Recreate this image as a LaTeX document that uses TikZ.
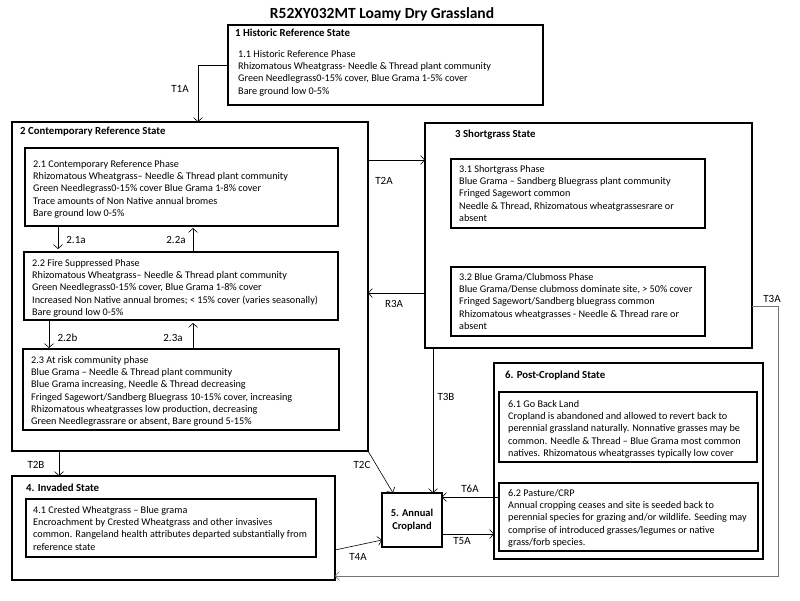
\documentclass[tikz,border=0pt]{standalone}
\usepackage{fontspec}
\setmainfont{Carlito}
\usetikzlibrary{arrows.meta}
\begin{document}
\begin{tikzpicture}[x=1pt,y=-1pt,
  box/.style={draw, line width=1.5pt, anchor=north west, inner sep=0pt, outer sep=0pt},
  txt/.style={anchor=north west, inner sep=0pt, align=left, font=\fontsize{10.2}{12.25}\selectfont},
  ttl/.style={anchor=north west, inner sep=0pt, font=\fontsize{10.8}{12}\selectfont\bfseries},
  conn/.style={line width=0.6pt, -{Straight Barb[length=4pt,width=9pt]}},
  grayconn/.style={conn, draw=black!55},
  lbl/.style={inner sep=0pt, font=\fontsize{11}{12}\selectfont},
]
\useasboundingbox[fill=white] (0,0) rectangle (800,600);

% title
\node[inner sep=0pt, font=\fontsize{15.5}{17}\selectfont\bfseries] (title) at (382,14) {R52XY032MT Loamy Dry Grassland};

% boxes
\node[box, minimum width=315pt, minimum height=80pt] (s1) at (228,25) {};
\node[box, minimum width=356pt, minimum height=329pt] (s2) at (12,122) {};
\node[box, minimum width=313pt, minimum height=78pt] (p21) at (25,148) {};
\node[box, minimum width=314pt, minimum height=68pt] (p22) at (24,252) {};
\node[box, minimum width=316pt, minimum height=81pt] (p23) at (23,349) {};
\node[box, minimum width=327pt, minimum height=225pt] (s3) at (425,123) {};
\node[box, minimum width=254pt, minimum height=69pt] (p31) at (451,159) {};
\node[box, minimum width=254pt, minimum height=69pt] (p32) at (451,267) {};
\node[box, minimum width=323pt, minimum height=104pt] (s4) at (12,476) {};
\node[box, minimum width=290pt, minimum height=58pt] (p41) at (26,499) {};
\node[box, minimum width=60pt, minimum height=54pt] (s5) at (382,493) {};
\node[box, minimum width=269pt, minimum height=196pt] (s6) at (494,363) {};
\node[box, minimum width=258pt, minimum height=70pt] (p61) at (499,392) {};
\node[box, minimum width=259pt, minimum height=68pt] (p62) at (499,483) {};

% titles
\node[ttl] (s1t) at (235,29) {1 Historic Reference State};
\node[ttl] (s2t) at (20,127) {2 Contemporary Reference State};
\node[ttl] (s3t) at (455,130) {3 Shortgrass State};
\node[ttl] (s4t) at (26,484) {4. Invaded  State};
\node[ttl] (s6t) at (505,371) {6. Post-Cropland  State};
\node[inner sep=0pt, align=center, font=\fontsize{10.5}{13.5}\selectfont\bfseries] (s5t) at (s5.center) {5. Annual\\Cropland};

% texts
\node[txt] (s1x) at (238,50) {1.1 Historic Reference Phase\\
Rhizomatous Wheatgrass- Needle \& Thread plant community\\
Green Needlegrass0-15\% cover, Blue Grama 1-5\% cover\\
Bare ground low  0-5\%};
\node[txt] (p21x) at (33,160) {2.1 Contemporary Reference Phase\\
Rhizomatous Wheatgrass-- Needle \& Thread plant community\\
Green Needlegrass0-15\% cover Blue Grama 1-8\% cover\\
Trace amounts of Non Native annual bromes\\
Bare ground low 0-5\%};
\node[txt] (p22x) at (32,259) {2.2 Fire Suppressed Phase\\
Rhizomatous Wheatgrass-- Needle \& Thread plant community\\
Green Needlegrass0-15\% cover, Blue Grama 1-8\% cover\\
Increased Non Native annual bromes; < 15\% cover (varies seasonally)\\
Bare ground low 0-5\%};
\node[txt] (p23x) at (31,356) {2.3  At risk community phase\\
Blue Grama -- Needle \& Thread plant community\\
Blue Grama increasing, Needle \& Thread decreasing\\
Fringed Sagewort/Sandberg Bluegrass 10-15\% cover, increasing\\
Rhizomatous wheatgrasses low production, decreasing\\
Green Needlegrassrare or absent, Bare ground 5-15\%};
\node[txt] (p31x) at (459,165) {3.1 Shortgrass Phase\\
Blue Grama -- Sandberg Bluegrass plant community\\
Fringed Sagewort common\\
Needle \& Thread, Rhizomatous wheatgrassesrare or\\
absent};
\node[txt] (p32x) at (459,273) {3.2 Blue Grama/Clubmoss Phase\\
Blue Grama/Dense clubmoss dominate site, > 50\% cover\\
Fringed Sagewort/Sandberg bluegrass common\\
Rhizomatous wheatgrasses - Needle \& Thread rare or\\
absent};
\node[txt] (p41x) at (33,506) {4.1 Crested Wheatgrass -- Blue grama\\
Encroachment by Crested Wheatgrass and other invasives\\
common. Rangeland health attributes departed substantially from\\
reference state};
\node[txt] (p61x) at (508,400) {6.1 Go Back Land\\
Cropland is abandoned and allowed to revert back to\\
perennial grassland naturally. Nonnative grasses may be\\
common. Needle \& Thread -- Blue Grama  most common\\
natives. Rhizomatous wheatgrasses typically low cover};
\node[txt] (p62x) at (508,489) {6.2 Pasture/CRP\\
Annual cropping ceases and site is seeded back to\\
perennial species for grazing and/or wildlife. Seeding may\\
comprise of introduced grasses/legumes or native\\
grass/forb species.};

% helper coordinates
\coordinate (k198) at (198,65);
\coordinate (k58) at (58,0);
\coordinate (k49) at (49,0);
\coordinate (k193) at (193,0);
\coordinate (y160) at (0,160);
\coordinate (y293) at (0,293);
\coordinate (y306) at (0,306);
\coordinate (k778) at (778,0);
\coordinate (y576) at (0,576);
\coordinate (k433) at (433,0);
\coordinate (k59) at (59,0);
\coordinate (k393) at (393,0);
\coordinate (y550) at (0,550);
\coordinate (y540) at (0,540);
\coordinate (y497) at (0,497);
\coordinate (y534) at (0,534);

% connectors
\draw[conn] (s1.west) -| (s2.north -| k198);
\draw[conn, shorten >=3pt] (p21.south -| k58) -- (p22.north -| k58);
\draw[conn, shorten >=2pt] (p22.north -| k193) -- (p21.south -| k193);
\draw[conn, shorten >=1pt] (p22.south -| k49) -- (p23.north -| k49);
\draw[conn, shorten >=3pt] (p23.north -| k193) -- (p22.south -| k193);
\draw[conn] (s2.east |- y160) -- (s3.west |- y160);
\draw[conn] (s3.west |- y293) -- (s2.east |- y293);
\draw[grayconn] (s3.east |- y306) -| (k778 |- y576) -- (s4.east |- y576);
\draw[conn] (s3.south -| k433) -- (s5.north -| k433);
\draw[conn] (s2.south -| k59) -- (s4.north -| k59);
\draw[conn] (s2.south east) -- (s5.north -| k393);
\draw[conn] (s4.east |- y550) -- (s5.west |- y540);
\draw[conn] (p62.west |- y497) -- (s5.east |- y497);
\draw[conn] (s5.east |- y534) -- (s6.west |- y534);

% labels
\node[lbl] (l1) at (180,89) {T1A};
\node[lbl] (l2) at (76,240) {2.1a};
\node[lbl] (l3) at (176,240) {2.2a};
\node[lbl] (l4) at (67.5,338) {2.2b};
\node[lbl] (l5) at (173,338) {2.3a};
\node[lbl] (l6) at (384,181) {T2A};
\node[lbl] (l7) at (394,304) {R3A};
\node[lbl] (l8) at (772,299) {T3A};
\node[lbl] (l9) at (446,397) {T3B};
\node[lbl] (l10) at (36,465) {T2B};
\node[lbl] (l11) at (362,465) {T2C};
\node[lbl] (l12) at (358,557) {T4A};
\node[lbl] (l13) at (470,489) {T6A};
\node[lbl] (l14) at (462,541) {T5A};
\end{tikzpicture}
\end{document}
